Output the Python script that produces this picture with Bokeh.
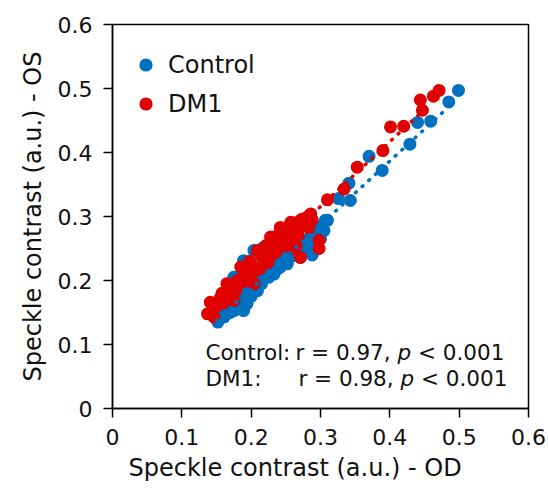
import numpy as np
from bokeh.plotting import figure
from bokeh.models import Range1d, FixedTicker, Label, Legend, LegendItem, Title
from bokeh.embed import file_html
from bokeh.resources import INLINE

# ---- data ----
control_x = [0.150, 0.152, 0.158, 0.161, 0.165, 0.170, 0.175, 0.175, 0.180, 0.184,
             0.188, 0.189, 0.189, 0.192, 0.194, 0.198, 0.200, 0.204, 0.205, 0.209,
             0.212, 0.215, 0.218, 0.220, 0.224, 0.228, 0.233, 0.236, 0.240, 0.242,
             0.246, 0.250, 0.252, 0.256, 0.260, 0.264, 0.268, 0.271, 0.271, 0.275,
             0.280, 0.281, 0.285, 0.290, 0.295, 0.300, 0.305, 0.310, 0.307, 0.326,
             0.343, 0.341, 0.370, 0.389, 0.429, 0.440, 0.459, 0.485, 0.499,
             0.165, 0.180, 0.200, 0.215, 0.225, 0.238, 0.255, 0.262, 0.278, 0.285,
             0.292, 0.298, 0.302, 0.288]
control_y = [0.140, 0.135, 0.150, 0.143, 0.160, 0.150, 0.153, 0.205, 0.170, 0.165,
             0.178, 0.231, 0.153, 0.169, 0.164, 0.190, 0.215, 0.247, 0.188, 0.184,
             0.200, 0.220, 0.252, 0.205, 0.215, 0.230, 0.210, 0.225, 0.232, 0.221,
             0.238, 0.245, 0.226, 0.250, 0.242, 0.258, 0.250, 0.236, 0.252, 0.262,
             0.255, 0.262, 0.268, 0.273, 0.249, 0.265, 0.278, 0.294, 0.294, 0.328,
             0.325, 0.352, 0.394, 0.372, 0.413, 0.447, 0.449, 0.479, 0.497,
             0.148, 0.158, 0.175, 0.195, 0.205, 0.218, 0.235, 0.240, 0.245, 0.250,
             0.258, 0.280, 0.285, 0.240]

dm1_x = [0.137, 0.141, 0.146, 0.150, 0.155, 0.160, 0.165, 0.168, 0.172, 0.175,
         0.180, 0.185, 0.188, 0.192, 0.196, 0.200, 0.204, 0.209, 0.212, 0.216,
         0.220, 0.224, 0.228, 0.232, 0.236, 0.240, 0.242, 0.246, 0.250, 0.254,
         0.257, 0.260, 0.264, 0.268, 0.271, 0.271, 0.276, 0.280, 0.286, 0.288,
         0.298, 0.298, 0.310, 0.334, 0.353, 0.390, 0.401, 0.420, 0.444, 0.447,
         0.463, 0.471,
         0.158, 0.178, 0.190, 0.198, 0.206, 0.214, 0.222, 0.226, 0.230, 0.238,
         0.244, 0.248, 0.252, 0.256, 0.262, 0.266, 0.274, 0.282, 0.284, 0.265,
         0.258]
dm1_y = [0.148, 0.166, 0.143, 0.160, 0.172, 0.165, 0.195, 0.180, 0.190, 0.169,
         0.200, 0.221, 0.198, 0.210, 0.205, 0.225, 0.195, 0.247, 0.218, 0.235,
         0.240, 0.228, 0.268, 0.250, 0.245, 0.262, 0.283, 0.255, 0.270, 0.265,
         0.291, 0.275, 0.282, 0.270, 0.294, 0.236, 0.285, 0.290, 0.304, 0.295,
         0.2625, 0.250, 0.326, 0.343, 0.377, 0.403, 0.440, 0.441, 0.482, 0.466,
         0.488, 0.497,
         0.180, 0.185, 0.215, 0.230, 0.215, 0.240, 0.255, 0.245, 0.240, 0.270,
         0.262, 0.278, 0.260, 0.280, 0.290, 0.285, 0.296, 0.300, 0.282, 0.255,
         0.250]

tick_values = [0, 0.1, 0.2, 0.3, 0.4, 0.5, 0.6]
tick_labels = ["0", "0.1", "0.2", "0.3", "0.4", "0.5", "0.6"]

series_names = ["Control", "DM1"]
r_values = ["0.97", "0.98"]
p_text = "< 0.001"

BLUE = "#0070C0"
RED = "#E00000"
FONT = "DejaVu Sans"

p = figure(width=548, height=499, output_backend="svg", toolbar_location=None,
           x_range=Range1d(0, 0.6), y_range=Range1d(0, 0.6),
           min_border_left=112, min_border_right=20, min_border_top=24,
           min_border_bottom=91)
p.background_fill_color = "white"
p.border_fill_color = "white"
p.grid.visible = False
p.outline_line_color = "black"
p.outline_line_width = 1.5

for ax in (p.xaxis[0], p.yaxis[0]):
    ax.ticker = FixedTicker(ticks=tick_values)
    ax.major_label_overrides = {v: l for v, l in zip(tick_values, tick_labels)}
    ax.minor_tick_line_color = None
    ax.major_tick_out = 9
    ax.major_tick_in = 0
    ax.major_tick_line_width = 1.5
    ax.major_tick_line_color = "black"
    ax.axis_line_width = 1.5
    ax.axis_line_color = "black"
    ax.major_label_text_font = FONT
    ax.major_label_text_font_size = "22px"
    ax.major_label_text_color = "#111111"
    ax.major_label_standoff = 11

p.yaxis.axis_label = "Speckle contrast (a.u.) - OS"
p.yaxis.axis_label_text_font = FONT
p.yaxis.axis_label_text_font_size = "24px"
p.yaxis.axis_label_text_font_style = "normal"
p.yaxis.axis_label_text_color = "#111111"
p.yaxis.axis_label_standoff = 8

p.add_layout(Title(text="Speckle contrast (a.u.) - OD", align="left", offset=16,
                   text_font=FONT, text_font_size="24px", text_font_style="normal",
                   text_color="#111111", standoff=8), "below")

# scatter
rc = p.scatter(control_x, control_y, size=13, color=BLUE, line_color=None)
rd = p.scatter(dm1_x, dm1_y, size=13, color=RED, line_color=None)

# linear trend lines from the data
for xs, ys, col in ((dm1_x, dm1_y, RED), (control_x, control_y, BLUE)):
    xs_a = np.array(xs)
    m, b = np.polyfit(xs_a, np.array(ys), 1)
    lx = [xs_a.min(), xs_a.max() - 0.015]
    p.line(lx, [m * v + b for v in lx], line_color=col, line_width=3.5,
           line_dash="1 8", line_cap="round")

legend = Legend(items=[LegendItem(label=series_names[0], renderers=[rc]),
                       LegendItem(label=series_names[1], renderers=[rd])],
                location=(17, 288), margin=0, padding=10, glyph_width=33,
                glyph_height=33, label_standoff=6, spacing=6,
                label_text_font=FONT, label_text_font_size="24px",
                label_text_color="#111111", border_line_color=None,
                background_fill_alpha=0)
p.add_layout(legend)

# correlation annotation
fs = 21.5
x0 = 0.134
lines_y = [0.0875, 0.047]
prefixes = ["Control:", "DM1:"]
r_off = [90, 93]
for i in range(2):
    common = dict(x=x0, y=lines_y[i], text_font=FONT, text_font_size=f"{fs}px",
                  text_color="#111111", text_baseline="middle", text_align="left")
    p.add_layout(Label(text=prefixes[i], **common))
    rtxt = f"r = {r_values[i]},"
    p.add_layout(Label(text=rtxt, x_offset=r_off[i], **common))
    w_r = 4.747 * fs  # width of "r = 0.9x, " in em
    p.add_layout(Label(text="p", x_offset=r_off[i] + w_r,
                       text_font_style="italic", **common))
    p.add_layout(Label(text=p_text, x_offset=r_off[i] + w_r + (0.635 + 0.318) * fs,
                       **common))

open("out.html", "w").write(file_html(p, INLINE))
